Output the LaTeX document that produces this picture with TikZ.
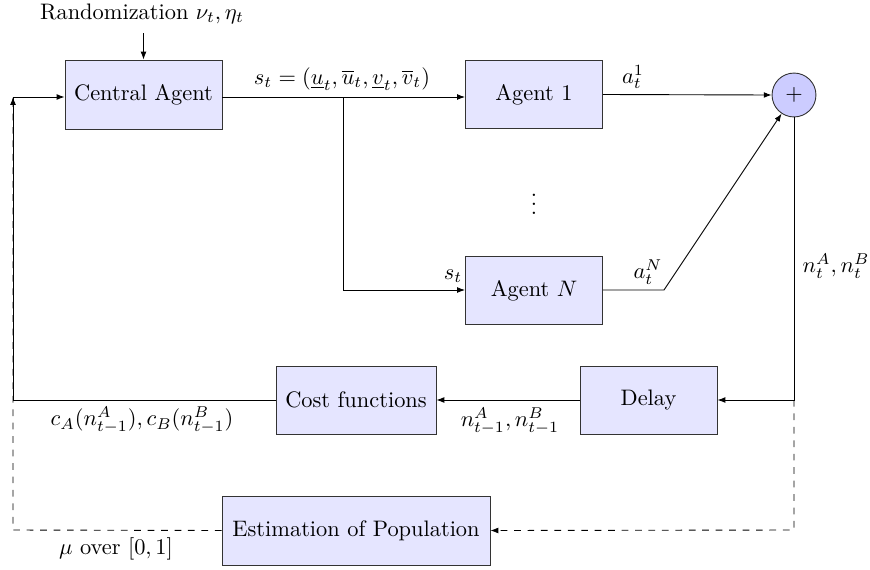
\documentclass[tikz,border=0pt]{standalone}
\usetikzlibrary{arrows.meta}
\begin{document}
\begin{tikzpicture}[x=0.4464pt,y=-0.4464pt,
  blk/.style={draw=black!80,fill=blue!10,inner sep=0pt,anchor=center},
  sumc/.style={draw=black!80,fill=blue!20,circle,inner sep=0pt,minimum size=19.6pt},
  arr/.style={-{Latex[length=3.5pt,width=2.6pt]}},
  lbl/.style={inner sep=0pt}]
\useasboundingbox (0,0) rectangle (870,569);
% blocks
\node[blk,minimum width=70.1pt,minimum height=30.8pt] (ca) at (143.5,94.5) {Central Agent};
\node[blk,minimum width=61.2pt,minimum height=30.6pt] (a1) at (534,94.5) {Agent 1};
\node[blk,minimum width=61.2pt,minimum height=30.6pt] (aN) at (534,290.5) {Agent $N$};
\node[sumc] (plus) at (794,95) {$+$};
\node[blk,minimum width=61.2pt,minimum height=30.4pt] (dl) at (648.5,400) {Delay};
\node[blk,minimum width=71.4pt,minimum height=30.4pt] (cf) at (356,400) {Cost functions};
\node[blk,minimum width=119.6pt,minimum height=30.8pt] (est) at (356,530.5) {Estimation of Population};
% labels
\node[lbl] (rnd) at (142,14) {Randomization $\nu_t,\eta_t$};
\node[lbl] (st) at (342,79) {$s_t=(\underline{u}_t,\overline{u}_t,\underline{v}_t,\overline{v}_t)$};
\node[lbl] (st2) at (453,276) {$s_t$};
\node[lbl] (dots) at (534,198) {$\vdots$};
\node[lbl] (l1) at (633,77) {$a_t^1$};
\node[lbl] (lN) at (648,272) {$a_t^N$};
\node[lbl] (nt) at (836,266) {$n_t^A,n_t^B$};
\node[lbl] (nt1) at (510,421) {$n_{t-1}^A,n_{t-1}^B$};
\node[lbl] (cA) at (142,420) {$c_A(n_{t-1}^A),c_B(n_{t-1}^B)$};
\node[lbl] (mu) at (116,549) {$\mu$ over $[0,1]$};
% coordinates
\coordinate (rtop) at (143.5,33);
\coordinate (br) at (343,97);
\coordinate (brd) at (343,290);
\coordinate (kink) at (664,290);
\coordinate (rr) at (794,400);
\coordinate (rb) at (794,530);
\coordinate (lm) at (13,400);
\coordinate (lb) at (13,530);
\coordinate (lt) at (13,97);
% connectors
\draw[arr] (rtop) -- (ca.north);
\draw[arr] (ca.east |- br) -- (a1.west |- br);
\draw[arr] (br) -- (brd) -- (aN.west |- brd);
\draw[arr] (a1.east) -- (plus.west);
\draw[arr] (aN.east |- kink) -- (kink) -- (plus);
\draw[arr] (plus.south) -- (rr) -- (dl.east);
\draw[arr] (dl.west) -- (cf.east);
\draw[arr] (cf.west) -- (lm) -- (lt) -- (ca.west |- lt);
\draw[arr,dashed] (rr) -- (rb) -- (est.east);
\draw[arr,dashed] (est.west) -- (lb) -- (lt);
\end{tikzpicture}
\end{document}
